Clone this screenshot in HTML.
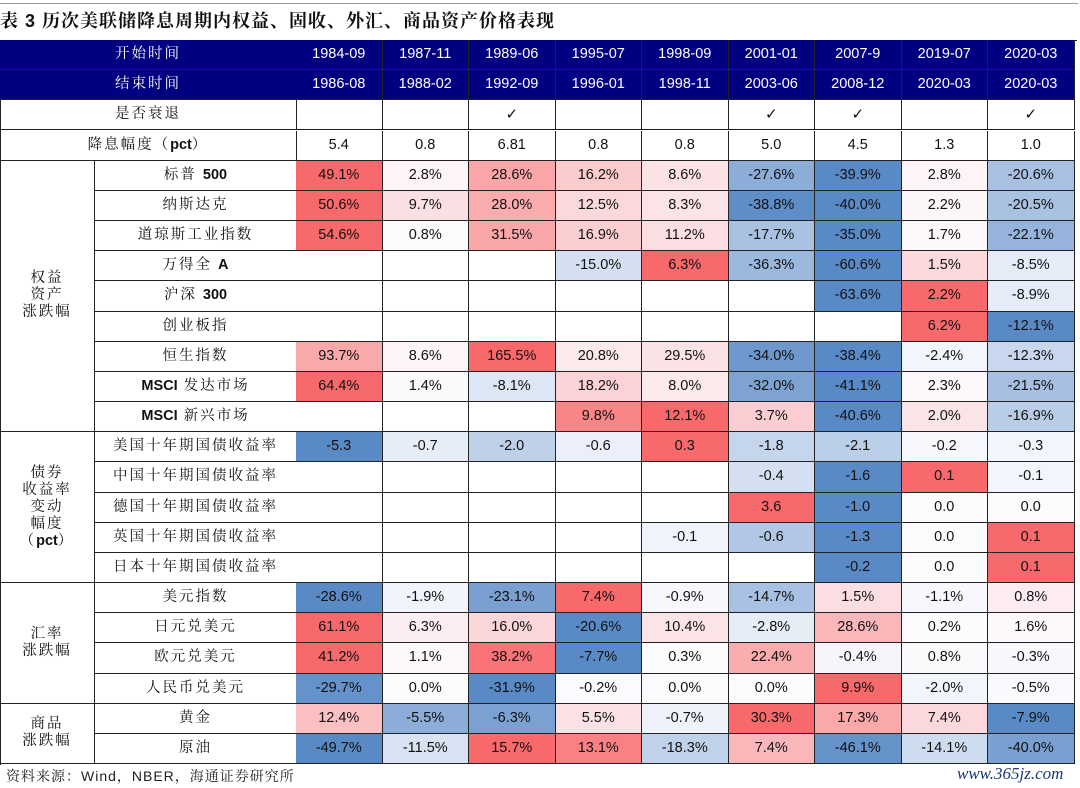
<!DOCTYPE html>
<html><head><meta charset="utf-8">
<style>
body{margin:0;width:1080px;height:788px;background:#fff;position:relative;overflow:hidden;font-family:"Liberation Sans","Noto Serif CJK SC",serif;}
.c{position:absolute;box-sizing:border-box;border-right:1px solid #222;border-bottom:1px solid #222;display:flex;align-items:center;justify-content:center;font-size:14.5px;color:#111;text-align:center;line-height:17px;}
.l{letter-spacing:2px;}
.h{background:#000080;color:#fff;}
b{font-weight:bold;letter-spacing:0;}
.ck{font-family:"DejaVu Sans",sans-serif;font-weight:bold;font-size:15px;}
</style></head><body>
<div style="position:absolute;left:0;top:3px;width:1078px;height:1px;background:#999"></div>
<div style="position:absolute;left:0;top:7px;font-size:18px;font-weight:bold;color:#111;letter-spacing:1px;font-family:'Liberation Sans','Noto Serif CJK SC',serif;">表 3 历次美联储降息周期内权益、固收、外汇、商品资产价格表现</div>
<div id="tbl" style="position:absolute;left:0;top:40px;width:1077px;height:725px;border-top:1px solid #222;border-left:1px solid #222;box-sizing:border-box"></div>
<div style="position:absolute;left:6px;top:766px;font-size:14px;color:#222;letter-spacing:1px">资料来源：Wind，NBER，海通证券研究所</div>
<div style="position:absolute;left:957px;top:764px;font-size:17px;color:#1a3a7a;font-family:'Liberation Serif',serif;font-style:italic">www.365jz.com</div>
<script>
const startDates=["1984-09","1987-11","1989-06","1995-07","1998-09","2001-01","2007-9","2019-07","2020-03"];
const endDates=["1986-08","1988-02","1992-09","1996-01","1998-11","2003-06","2008-12","2020-03","2020-03"];
const recession=[0,0,1,0,0,1,1,0,1];
const cutSize=["5.4","0.8","6.81","0.8","0.8","5.0","4.5","1.3","1.0"];
const rowLabels=["标普&nbsp;<b>500</b>","纳斯达克","道琼斯工业指数","万得全&nbsp;<b>A</b>","沪深&nbsp;<b>300</b>","创业板指","恒生指数","<b>MSCI</b>&nbsp;发达市场","<b>MSCI</b>&nbsp;新兴市场",
"美国十年期国债收益率","中国十年期国债收益率","德国十年期国债收益率","英国十年期国债收益率","日本十年期国债收益率",
"美元指数","日元兑美元","欧元兑美元","人民币兑美元","黄金","原油"];
const N=null;
const sp500=[49.1,2.8,28.6,16.2,8.6,-27.6,-39.9,2.8,-20.6];
const nasdaq=[50.6,9.7,28.0,12.5,8.3,-38.8,-40.0,2.2,-20.5];
const dow=[54.6,0.8,31.5,16.9,11.2,-17.7,-35.0,1.7,-22.1];
const windA=[N,N,N,-15.0,6.3,-36.3,-60.6,1.5,-8.5];
const hs300=[N,N,N,N,N,N,-63.6,2.2,-8.9];
const chinext=[N,N,N,N,N,N,N,6.2,-12.1];
const hsi=[93.7,8.6,165.5,20.8,29.5,-34.0,-38.4,-2.4,-12.3];
const msciDev=[64.4,1.4,-8.1,18.2,8.0,-32.0,-41.1,2.3,-21.5];
const msciEm=[N,N,N,9.8,12.1,3.7,-40.6,2.0,-16.9];
const us10y=[-5.3,-0.7,-2.0,-0.6,0.3,-1.8,-2.1,-0.2,-0.3];
const cn10y=[N,N,N,N,N,-0.4,-1.6,0.1,-0.1];
const de10y=[N,N,N,N,N,3.6,-1.0,0.0,0.0];
const uk10y=[N,N,N,N,-0.1,-0.6,-1.3,0.0,0.1];
const jp10y=[N,N,N,N,N,N,-0.2,0.0,0.1];
const dxy=[-28.6,-1.9,-23.1,7.4,-0.9,-14.7,1.5,-1.1,0.8];
const jpy=[61.1,6.3,16.0,-20.6,10.4,-2.8,28.6,0.2,1.6];
const eur=[41.2,1.1,38.2,-7.7,0.3,22.4,-0.4,0.8,-0.3];
const cny=[-29.7,0.0,-31.9,-0.2,0.0,0.0,9.9,-2.0,-0.5];
const gold=[12.4,-5.5,-6.3,5.5,-0.7,30.3,17.3,7.4,-7.9];
const oil=[-49.7,-11.5,15.7,13.1,-18.3,7.4,-46.1,-14.1,-40.0];
const series=[sp500,nasdaq,dow,windA,hs300,chinext,hsi,msciDev,msciEm,us10y,cn10y,de10y,uk10y,jp10y,dxy,jpy,eur,cny,gold,oil];
const groups=[["权益<br>资产<br>涨跌幅",0,9],["债券<br>收益率<br>变动<br>幅度<br>（<b>pct</b>）",9,5],["汇率<br>涨跌幅",14,4],["商品<br>涨跌幅",18,2]];

const T=document.getElementById('tbl');
const RH=30.17, X0=296, CW=86.5;
function cell(x,y,w,h,html,cls,name,bg){
  const d=document.createElement('div');
  d.className='c'+(cls?' '+cls:'');
  d.style.left=x+'px';d.style.top=y+'px';d.style.width=w+'px';d.style.height=h+'px';
  if(bg)d.style.background=bg;
  d.innerHTML='<span>'+html+'</span>';
  
  
  T.appendChild(d);return d;
}
function mix(a,b,t){return 'rgb('+a.map((v,i)=>Math.round(v+(b[i]-v)*t)).join(',')+')';}
const RED=[248,105,107],WHITE=[252,252,255],BLUE=[90,138,198];
function colorFor(v,arr){
  const vals=arr.filter(x=>x!==null);
  const mx=Math.max(...vals),mn=Math.min(...vals);
  if(v>0&&mx>0)return mix(WHITE,RED,v/mx);
  if(v<0&&mn<0)return mix(WHITE,BLUE,v/mn);
  return 'rgb(252,252,255)';
}
cell(-1,-1,X0+1,RH,"开始时间","h l","start-date-header");
cell(-1,RH-1,X0+1,RH,"结束时间","h l","end-date-header");
cell(-1,2*RH-1,X0+1,RH,"是否衰退","l","recession-header");
cell(-1,3*RH-1,X0+1,RH,"降息幅度（<b>pct</b>）","l","cut-size-header");
for(let j=0;j<9;j++){
  const x=X0+j*CW-1;
  cell(x,-1,CW,RH,startDates[j],"h","start-date-"+j);
  cell(x,RH-1,CW,RH,endDates[j],"h","end-date-"+j);
  cell(x,2*RH-1,CW,RH,recession[j]?'<span class="ck">✓</span>':"","","recession-"+j);
  cell(x,3*RH-1,CW,RH,cutSize[j],"","cut-size-"+j);
}
groups.forEach((g,gi)=>{
  cell(-1,(4+g[1])*RH-1,95,g[2]*RH,g[0],"l","group-label-"+gi);
});
series.forEach((arr,i)=>{
  const y=(4+i)*RH-1;
  cell(94,y,X0-94,RH,rowLabels[i],"l","row-label-"+i);
  const isBond=i>=9&&i<14;
  arr.forEach((v,j)=>{
    const txt=v===null?"":(v.toFixed(1)+(isBond?"":"%"));
    const bg=v===null?"#fff":colorFor(v,arr);
    cell(X0+j*CW-1,y,CW,RH,txt,"","heat-cell-"+i+"-"+j,bg);
  });
});
</script>
</body></html>
